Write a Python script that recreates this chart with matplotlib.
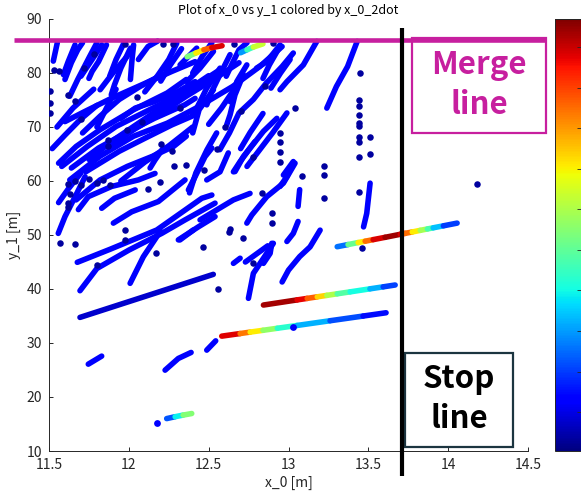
import numpy as np
import matplotlib as mpl
import matplotlib.pyplot as plt
from matplotlib.collections import LineCollection
from matplotlib.patches import Rectangle

plt.rcParams['font.family'] = ['Noto Sans CJK JP', 'DejaVu Sans']

# trajectories with low x_0_2dot (plain blue), (x_0 [m], y_1 [m])
blue_tracks = [
    ([11.527, 11.552], [82.2, 85.6]),
    ([11.60, 11.64, 11.68, 11.71], [78.8, 81.9, 84.3, 85.6]),
    ([11.63, 11.68, 11.75, 11.80], [75.7, 78.8, 82.8, 85.6]),
    ([11.70, 11.77, 11.83], [79.4, 82.5, 85.2]),
    ([11.88, 11.92, 11.97], [79.4, 82.5, 85.6]),
    ([11.82, 11.90, 11.99], [76.9, 80.0, 83.1]),
    ([12.01, 12.02, 12.03], [78.8, 82.5, 85.2]),
    ([11.56, 11.67, 11.82, 12.03, 12.24, 12.36], [63.3, 66.4, 69.5, 73.2, 76.3, 78.8]),
    ([11.58, 11.74, 11.92, 12.13, 12.30, 12.44, 12.57], [62.7, 66.4, 70.1, 73.2, 75.7, 78.1, 80.6]),
    ([11.63, 11.82, 12.03, 12.24, 12.44, 12.65, 12.82, 12.96], [60.2, 64.6, 68.3, 70.7, 73.8, 77.5, 81.2, 84.9]),
    ([11.67, 11.82, 11.99, 12.15, 12.28, 12.36], [56.5, 60.2, 62.7, 64.6, 66.4, 68.3]),
    ([11.71, 11.82, 11.94, 12.07, 12.19], [68.9, 72.0, 75.1, 77.5, 79.4]),
    ([11.88, 12.03, 12.17, 12.36, 12.53, 12.69], [66.4, 69.5, 72.0, 75.7, 78.8, 81.9]),
    ([12.38, 12.42, 12.49, 12.55], [57.8, 61.5, 65.8, 68.9]),
    ([12.40, 12.44, 12.53], [68.9, 73.2, 76.9]),
    ([12.57, 12.63, 12.69, 12.78, 12.86, 12.96, 13.03], [65.8, 68.9, 72.6, 75.1, 78.1, 81.2, 83.7]),
    ([12.74, 12.82, 12.90, 12.99], [62.7, 65.8, 68.9, 72.6]),
    ([12.61, 12.65, 12.69, 12.74], [79.4, 81.9, 84.3, 85.6]),
    ([12.84, 12.88, 12.94], [79.0, 81.5, 84.6]),
    ([12.40, 12.46, 12.52], [80.0, 83.1, 85.6]),
    ([12.06, 12.12, 12.18], [82.5, 84.9, 85.9]),
    ([12.89, 12.95, 13.01], [77.2, 80.0, 82.5]),
    ([12.947, 12.99, 13.093, 13.177], [76.9, 78.4, 81.5, 85.85]),
    ([12.80, 12.864, 12.947], [80.9, 82.1, 85.2]),
    ([12.634, 12.655, 12.676, 12.739], [74.7, 75.96, 78.4, 81.5]),
    ([12.488, 12.52, 12.571, 12.634], [74.1, 76.6, 79.7, 83.4]),
    ([12.613, 12.634, 12.665, 12.717], [70.4, 72.25, 75.96, 79.7]),
    ([12.655, 12.697, 12.76, 12.843, 12.927], [61.7, 63.6, 66.1, 69.2, 71.6]),
    ([12.968, 13.03], [61.1, 63.6]),
    ([12.321, 12.425], [81.5, 84.6]),
    ([12.363, 12.446, 12.53], [78.4, 80.9, 84.0]),
    ([12.404, 12.446, 12.488, 12.571], [72.25, 74.7, 77.2, 80.9]),
    ([11.59, 11.62, 11.663], [79.7, 82.1, 85.2]),
    ([11.75, 11.77, 11.81, 11.86], [79.0, 80.3, 82.1, 85.2]),
    ([11.89, 11.91, 11.95, 12.01], [75.96, 77.8, 80.9, 84.6]),
    ([11.60, 11.726, 11.89, 12.08, 12.27, 12.415], [71.0, 72.9, 75.3, 77.8, 80.3, 82.1]),
    ([11.64, 11.81, 12.0, 12.16, 12.35, 12.415], [62.4, 66.1, 69.2, 71.6, 74.1, 75.3]),
    ([11.73, 11.94, 12.10, 12.27, 12.415], [61.7, 65.5, 67.9, 70.4, 72.25]),
    ([11.95, 12.04, 12.16, 12.31, 12.415], [71.6, 73.5, 74.7, 76.6, 78.4]),
    ([13.24, 13.30, 13.37, 13.43], [73.5, 77.5, 81.2, 85.85]),
    ([11.52, 11.60, 11.70, 11.80], [66.0, 68.5, 71.5, 74.0]),
    ([11.55, 11.65, 11.78], [70.0, 73.5, 77.0]),
    ([11.75, 11.90, 12.05, 12.20, 12.35, 12.50], [64.0, 67.5, 70.5, 73.5, 76.5, 79.5]),
    ([12.10, 12.18, 12.25, 12.30], [76.5, 79.5, 82.5, 85.5]),
    ([12.20, 12.26, 12.33], [78.5, 81.5, 84.5]),
    ([11.95, 12.10, 12.25, 12.40], [60.0, 63.5, 66.5, 70.0]),
    ([12.50, 12.58, 12.66], [70.5, 73.5, 77.0]),
    ([12.70, 12.76, 12.84], [66.0, 69.0, 72.5]),
    ([11.56, 11.62, 11.70], [56.0, 58.5, 61.5]),
    ([11.80, 11.86, 11.92], [70.0, 73.5, 77.0]),
    ([11.558, 11.60, 11.674, 11.726], [50.3, 53.4, 57.7, 60.8]),
    ([11.684, 11.746, 11.893, 12.06, 12.164], [54.7, 57.1, 59.0, 60.2, 61.4]),
    ([11.83, 11.91, 12.04], [54.95, 56.8, 58.35]),
    ([11.903, 12.018, 12.185, 12.352], [52.2, 54.3, 56.2, 60.2]),
    ([12.133, 12.164, 12.216], [62.4, 63.9, 66.1]),
    ([12.373, 12.415, 12.477, 12.52], [58.35, 60.8, 64.5, 66.1]),
    ([11.677, 11.882, 12.175, 12.457, 12.52], [44.94, 47.35, 50.93, 56.8, 57.4]),
    ([11.694, 11.80, 12.0, 12.206, 12.352, 12.54], [39.68, 43.8, 47.2, 50.3, 52.8, 55.9]),
    ([12.008, 12.091, 12.175, 12.195], [41.05, 45.98, 49.69, 50.9]),
    ([12.31, 12.373, 12.435, 12.54], [49.1, 50.3, 51.5, 53.4]),
    ([12.32, 12.404], [49.08, 50.93]),
    ([12.749, 12.78, 12.864, 12.905], [38.27, 42.9, 46.61, 48.46]),
    ([12.96, 13.0, 13.07, 13.135, 13.198], [41.3, 43.5, 46.0, 47.8, 50.9]),
    ([12.739, 12.77, 12.864, 12.968, 13.041], [52.2, 53.7, 57.1, 59.6, 63.3]),
    ([12.665, 12.717, 12.79], [61.74, 64.5, 67.3]),
    ([12.446, 12.655, 12.759], [52.8, 56.5, 57.7]),
    ([12.488, 12.571, 12.623], [60.2, 61.7, 65.2]),
    ([13.06, 13.07], [55.3, 58.4]),
    ([12.99, 13.03, 13.06], [48.8, 50.3, 52.5]),
    ([12.843, 12.885, 12.895], [44.75, 46.6, 48.46]),
    ([13.47, 13.49, 13.511], [51.5, 54.0, 59.6]),
    ([12.947, 12.99, 13.03], [59.0, 60.8, 63.3]),
    ([12.655, 12.697], [44.75, 45.7]),
    ([12.73, 12.80, 12.87], [45.0, 46.5, 48.0]),
    ([11.746, 11.830], [26.08, 27.57]),
    ([12.227, 12.310, 12.390], [24.97, 27.14, 28.25]),
    ([12.488, 12.544], [28.68, 30.40]),
]
blue_c = 0.11

dark_tracks = [([11.694, 12.529], [34.74, 42.71])]
dark_c = 0.07

# single samples (dark dots)
navy_x = [11.506, 11.506, 11.506, 11.53, 11.56, 11.62, 11.66, 11.70, 11.87, 11.99, 12.08, 12.20,
          12.27, 12.36, 12.47, 12.55, 12.60, 12.70, 12.85, 11.72, 11.78, 12.05, 12.32,
          11.975, 12.215, 12.277, 12.66, 12.90,
          11.62, 11.66, 11.70, 11.75, 11.80, 11.84, 11.88, 11.63, 11.62, 11.62,
          11.57, 11.663, 11.976, 11.976, 12.195, 12.122, 12.28, 11.87, 12.467, 12.17, 11.80,
          12.63, 12.78, 12.557,
          13.449, 13.44, 13.44, 13.44, 13.44, 13.44, 13.44, 13.44, 13.44, 13.51, 13.51, 13.04,
          13.22, 13.22, 13.22, 13.44, 14.18, 13.083, 12.947, 12.947, 12.947, 12.947, 12.895,
          12.895, 12.78, 12.833, 12.634, 12.717, 13.46]
navy_y = [76.6, 74.4, 72.6, 80.6, 80.3, 76.0, 74.8, 71.5, 67.5, 69.5, 71.0, 66.8,
          65.5, 63.0, 62.0, 66.0, 70.0, 73.0, 77.5, 81.0, 83.5, 75.5, 73.5,
          85.4, 85.4, 85.3, 85.3, 85.5,
          59.5, 60.0, 59.2, 60.4, 59.6, 60.1, 59.3, 57.5, 56.0, 55.2,
          48.46, 48.3, 50.9, 49.1, 59.9, 58.5, 62.7, 66.4, 47.8, 46.6, 44.4,
          50.6, 44.75, 39.94,
          80.0, 75.0, 73.8, 72.3, 70.7, 70.1, 68.2, 67.3, 64.5, 68.1, 65.0, 73.5,
          62.7, 61.1, 56.8, 58.0, 59.46, 60.9, 68.8, 67.3, 65.4, 63.6, 54.0,
          52.2, 64.5, 57.7, 51.2, 49.4, 47.5]
navy_c = 0.03

blue_dot_x = [12.175, 13.03]
blue_dot_y = [15.27, 32.9]

# trajectories with a changing x_0_2dot
color_tracks = [
    ([12.365, 12.42, 12.47, 12.52, 12.584], [83.0, 83.7, 84.3, 84.7, 85.05],
     [0.42, 0.58, 0.74, 0.87, 0.96]),
    ([12.70, 12.74, 12.78, 12.84], [83.75, 84.3, 84.8, 85.4], [0.2, 0.35, 0.5, 0.68]),
    ([13.305, 13.373, 13.436, 13.48, 13.53, 13.605, 13.70, 13.73, 13.775, 13.825, 13.87, 13.906, 13.97, 14.056],
     [47.83, 48.23, 48.6, 48.85, 49.14, 49.57, 50.13, 50.3, 50.56, 50.86, 51.12, 51.33, 51.7, 52.2],
     [0.12, 0.35, 0.6, 0.72, 0.87, 0.97, 0.97, 0.87, 0.72, 0.6, 0.5, 0.38, 0.25, 0.12]),
    ([12.843, 13.054, 13.117, 13.18, 13.24, 13.305, 13.386, 13.51, 13.593, 13.668],
     [37.03, 37.98, 38.26, 38.55, 38.82, 39.11, 39.47, 40.03, 40.4, 40.74],
     [0.98, 0.95, 0.87, 0.75, 0.62, 0.5, 0.4, 0.35, 0.25, 0.13]),
    ([12.582, 12.697, 12.76, 12.84, 12.93, 13.054, 13.26, 13.467, 13.611],
     [31.27, 31.75, 32.02, 32.35, 32.73, 33.25, 34.12, 34.99, 35.6],
     [0.98, 0.85, 0.72, 0.6, 0.45, 0.35, 0.25, 0.15, 0.12]),
    ([12.237, 12.29, 12.34, 12.394], [16.0, 16.35, 16.65, 16.94], [0.12, 0.3, 0.42, 0.6]),
]

merge_y = 86.07
stop_x = 13.71
magenta = '#C71F9F'

cmap = plt.get_cmap('jet')
norm = mpl.colors.Normalize(0, 1)

fig = plt.figure(figsize=(5.81, 4.98), dpi=100)
ax = fig.add_axes([49 / 581, 47 / 498, 479 / 581, 432 / 498])

for xs, ys in blue_tracks:
    ax.plot(xs, ys, color=cmap(norm(blue_c)), lw=4, solid_capstyle='round',
            solid_joinstyle='round', zorder=2)
for xs, ys in dark_tracks:
    ax.plot(xs, ys, color=cmap(norm(dark_c)), lw=4, solid_capstyle='round', zorder=2)

ax.scatter(navy_x, navy_y, color=cmap(norm(navy_c)), s=22, linewidths=0, zorder=3)

for xs, ys, cs in color_tracks:
    pts = np.column_stack([xs, ys])
    segs = np.stack([pts[:-1], pts[1:]], axis=1)
    cs = np.array(cs)
    lc = LineCollection(segs, cmap=cmap, norm=norm, linewidths=4, capstyle='round', zorder=3)
    lc.set_array((cs[:-1] + cs[1:]) / 2)
    ax.add_collection(lc)

ax.scatter(blue_dot_x, blue_dot_y, color=cmap(norm(blue_c)), s=24, linewidths=0, zorder=4)

ax.set_xlim(11.5, 14.5)
ax.set_ylim(10, 90)
ax.set_xticks(np.arange(11.5, 14.51, 0.5))
ax.set_xticklabels(['11.5', '12', '12.5', '13', '13.5', '14', '14.5'])
ax.set_yticks(np.arange(10, 91, 10))
for s in ['top', 'right']:
    ax.spines[s].set_visible(False)
for s in ['left', 'bottom']:
    ax.spines[s].set_color('#262626')
    ax.spines[s].set_linewidth(0.7)
ax.tick_params(direction='in', length=3, width=0.7, color='#262626', labelcolor='#262626',
               labelsize=10, pad=5)

ax.set_title('Plot of x_0 vs y_1 colored by x_0_2dot', fontsize=9, pad=3.8)
ax.set_xlabel('x_0 [m]', fontsize=10, color='#262626', labelpad=3)
ax.set_ylabel('y_1 [m]', fontsize=10, color='#262626', labelpad=4)

# merge line and stop line
ax.plot([11.28, 14.608], [merge_y, merge_y], color=magenta, lw=3.3, clip_on=False,
        solid_capstyle='butt', zorder=5)
ax.plot([stop_x, stop_x], [5.32, 88.39], color='black', lw=3, clip_on=False,
        solid_capstyle='butt', zorder=6)

ax.add_patch(Rectangle((13.775, 68.92), 0.837, 17.61, facecolor='white', edgecolor=magenta,
                       lw=1.6, clip_on=False, zorder=4))
ax.text(14.193, 77.8, 'Merge\nline', ha='center', va='center', fontsize=22.5,
        fontweight='bold', color=magenta, linespacing=1.3, zorder=7)

ax.add_patch(Rectangle((13.731, 10.75), 0.676, 17.43, facecolor='white', edgecolor='#1C3540',
                       lw=1.6, clip_on=False, zorder=4))
ax.text(14.069, 19.6, 'Stop\nline', ha='center', va='center', fontsize=22.5,
        fontweight='bold', color='black', linespacing=1.3, zorder=7)

# colorbar (labels fall outside the picture)
cax = fig.add_axes([555 / 581, 47 / 498, 26 / 581, 432 / 498])
sm = mpl.cm.ScalarMappable(norm=norm, cmap=cmap)
cb = fig.colorbar(sm, cax=cax)
cb.set_ticks(np.linspace(0.09, 0.935, 10))
cb.ax.tick_params(direction='in', length=3, width=0.6, color='#262626', labelright=False)
cb.outline.set_linewidth(0.7)
cb.outline.set_edgecolor('#262626')

fig.savefig('out.png', dpi=100)
